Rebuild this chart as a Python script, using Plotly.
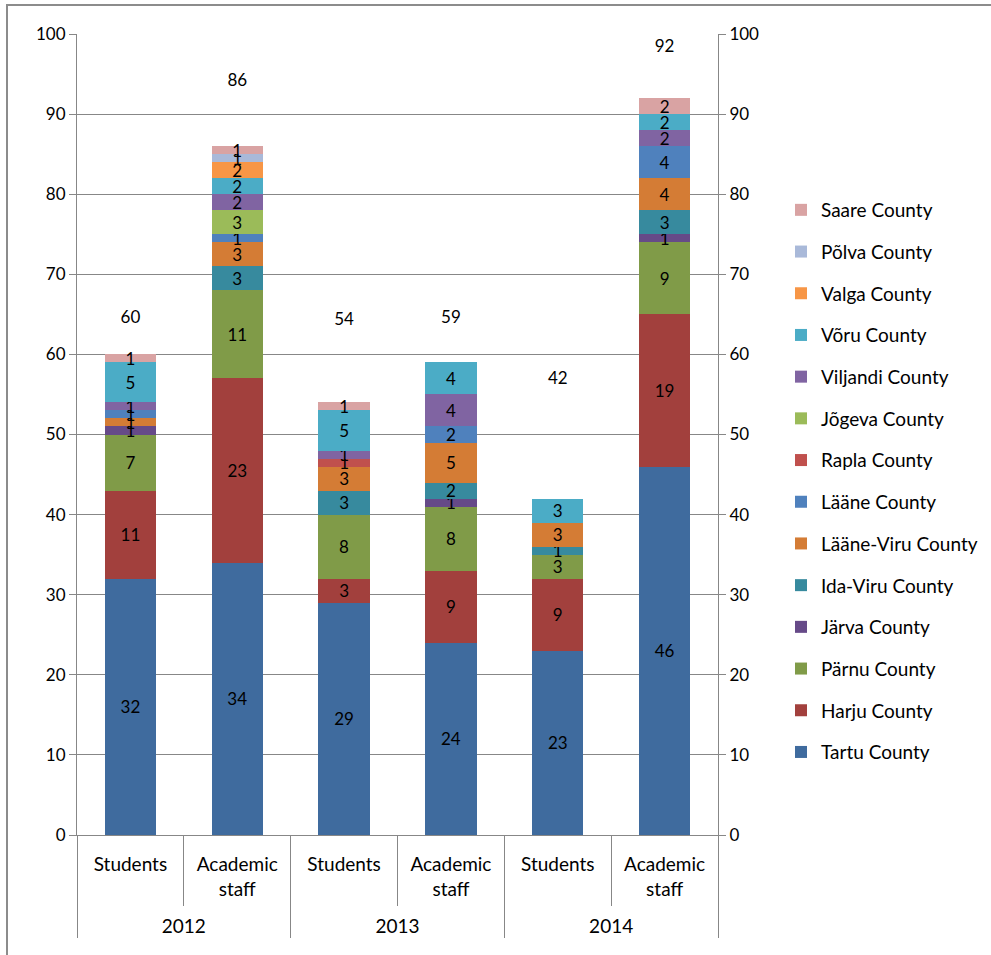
import plotly.graph_objects as go

# Categories: year / staff group
years = ["2012", "2012", "2013", "2013", "2014", "2014"]
groups = ["Students", "Academic<br>staff", "Students", "Academic<br>staff", "Students", "Academic<br>staff"]

# Counties, listed from the bottom of the stack upward
counties = ["Tartu County", "Harju County", "Pärnu County", "Järva County", "Ida-Viru County",
            "Lääne-Viru County", "Lääne County", "Rapla County", "Jõgeva County",
            "Viljandi County", "Võru County", "Valga County", "Põlva County", "Saare County"]

tartu = [32, 34, 29, 24, 23, 46]
harju = [11, 23, 3, 9, 9, 19]
parnu = [7, 11, 8, 8, 3, 9]
jarva = [1, 0, 0, 1, 0, 1]
ida_viru = [0, 3, 3, 2, 1, 3]
laane_viru = [1, 3, 3, 5, 3, 4]
laane = [1, 1, 0, 2, 0, 4]
rapla = [0, 0, 1, 0, 0, 0]
jogeva = [0, 3, 0, 0, 0, 0]
viljandi = [1, 2, 1, 4, 0, 2]
voru = [5, 2, 5, 4, 3, 2]
valga = [0, 2, 0, 0, 0, 0]
polva = [0, 1, 0, 0, 0, 0]
saare = [1, 1, 1, 0, 0, 2]

series = [tartu, harju, parnu, jarva, ida_viru, laane_viru, laane, rapla,
          jogeva, viljandi, voru, valga, polva, saare]

colors = ["#3F6B9E", "#A2403D", "#809B48", "#664A88", "#378A9E", "#D47C35", "#4F81BD",
          "#C0504D", "#9BBB59", "#8064A2", "#4BACC6", "#F79646", "#A9B9D9", "#D9A3A3"]

totals = [sum(col) for col in zip(*series)]
# vertical lift of each total label above its bar top
label_lift = [4.5, 8.0, 10.2, 5.5, 14.8, 6.3]

FONT = "Lato"
GRID = "#878787"

fig = go.Figure()
# a trailing blank line on the inner labels pushes the year row further down
x = [years, [g + "<br> " for g in groups]]
n = len(counties)
for i, (name, vals, col) in enumerate(zip(counties, series, colors)):
    fig.add_trace(go.Bar(
        x=x, y=vals, name=name, marker_color=col, marker_line_width=0,
        text=[str(v) if v else "" for v in vals],
        textposition="inside", insidetextanchor="middle", textangle=0,
        textfont=dict(color="black", size=17, family=FONT),
        legendgroup=name, legendrank=n - i,
    ))

fig.add_trace(go.Scatter(
    x=x, y=[t + d for t, d in zip(totals, label_lift)], mode="text",
    text=[str(t) for t in totals], textfont=dict(color="black", size=17, family=FONT),
    showlegend=False, hoverinfo="skip",
))
fig.add_trace(go.Scatter(x=x, y=totals, yaxis="y2", mode="markers",
                         marker=dict(opacity=0), showlegend=False, hoverinfo="skip"))

L, R, T, B = 77, 718, 34, 835
W, H = 991, 955
pw, ph = R - L, B - T

fig.update_layout(
    width=W, height=H,
    margin=dict(l=L, r=W - R, t=T, b=H - B, autoexpand=False),
    paper_bgcolor="white", plot_bgcolor="white",
    barmode="stack", bargap=0.52,
    font=dict(family=FONT, size=17, color="black"),
    uniformtext=dict(minsize=17, mode="show"),
    showlegend=True,
    legend=dict(x=(781 - L) / pw, y=(B - 191) / ph, xanchor="left", yanchor="top",
                traceorder="grouped", tracegroupgap=14,
                font=dict(size=19, family=FONT), itemwidth=30, bgcolor="rgba(0,0,0,0)"),
    xaxis=dict(type="multicategory", showline=True, linecolor=GRID, linewidth=1,
               ticks="outside", tickcolor=GRID, ticklen=70, ticklabelstandoff=12,
               showdividers=True, dividercolor=GRID, dividerwidth=1,
               tickfont=dict(size=19, family=FONT)),
    yaxis=dict(range=[0, 100], dtick=10, showgrid=True, gridcolor=GRID, gridwidth=1,
               showline=True, linecolor=GRID, ticks="outside", tickcolor=GRID, ticklen=7,
               zeroline=False, tickfont=dict(size=17, family=FONT)),
    yaxis2=dict(range=[0, 100], dtick=10, overlaying="y", side="right", showgrid=False,
                showline=True, linecolor=GRID, ticks="outside", tickcolor=GRID, ticklen=7,
                zeroline=False, tickfont=dict(size=17, family=FONT)),
    shapes=[dict(type="rect", xref="paper", yref="paper",
                 x0=(7 - L) / pw, x1=(1015 - L) / pw,
                 y0=(B - 975) / ph, y1=(B - 5) / ph,
                 line=dict(color="#8C8C8C", width=2), layer="below")],
)

fig.write_html("out.html")
